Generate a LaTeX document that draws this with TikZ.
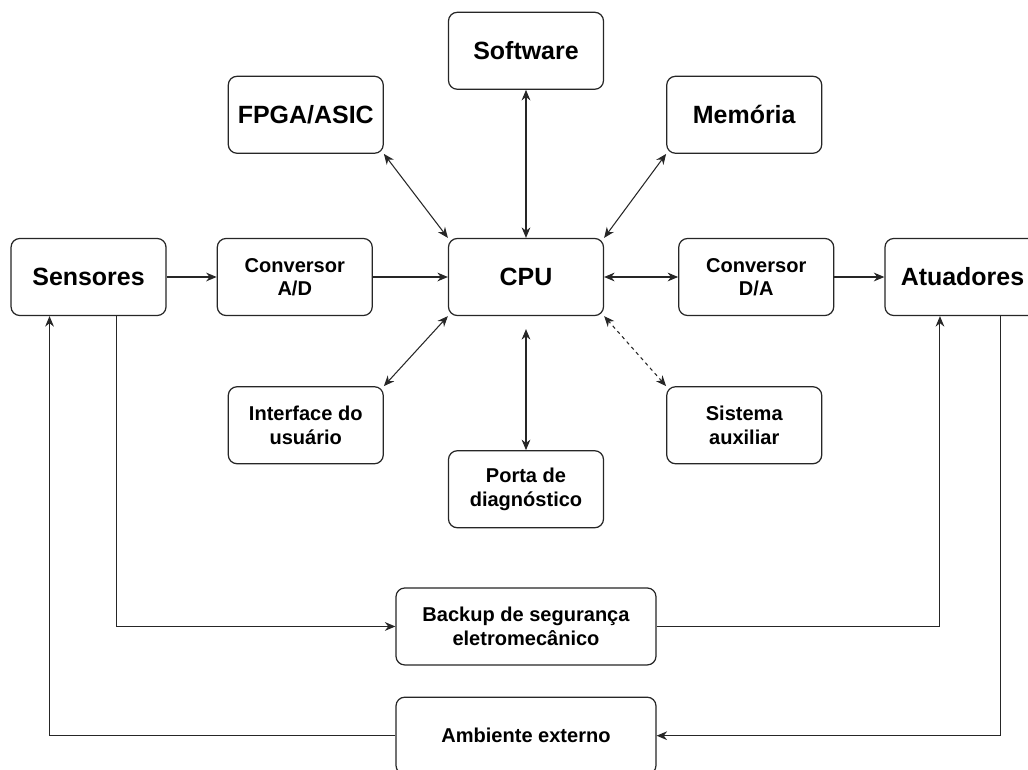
\documentclass[tikz,border=0pt]{standalone}
\usepackage{fontspec}
\setmainfont{Liberation Sans}
\usetikzlibrary{arrows.meta,positioning}

\begin{document}
\begin{tikzpicture}[
        box/.style={rectangle, rounded corners=5pt, draw=black!85, line width=0.7pt, fill=white,
            minimum height=1.54cm, minimum width=3.1cm, align=center,
            font=\bfseries\fontsize{11.4}{13.4}\selectfont},
        bigbox/.style={box, font=\bfseries\fontsize{14.2}{17}\selectfont},
        widebox/.style={box, minimum width=5.2cm},
        arr/.style={-{Stealth[length=6pt,width=5pt]}, line width=0.6pt, draw=black!85},
        biarr/.style={arr, {Stealth[length=6pt,width=5pt]}-{Stealth[length=6pt,width=5pt]}},
        dasharr/.style={biarr, dash pattern=on 2pt off 2pt}
    ]
    \useasboundingbox (-10.52,5.54) rectangle (10.04,-9.84);

    \node[bigbox] (cpu) {CPU};
    \node[box, left=1.5cm of cpu] (adc) {Conversor\\A/D};
    \node[bigbox, left=1.0cm of adc] (sens) {Sensores};
    \node[box, right=1.48cm of cpu] (dac) {Conversor\\D/A};
    \node[bigbox, right=1.0cm of dac] (act) {Atuadores};

    \node[bigbox, above=2.96cm of cpu] (soft) {Software};
    \node[bigbox, above left=1.68cm and 1.28cm of cpu] (fpga) {FPGA/ASIC};
    \node[bigbox, above right=1.68cm and 1.24cm of cpu] (mem) {Memória};
    \node[box, below left=1.4cm and 1.28cm of cpu] (ui) {Interface do\\usuário};
    \node[box, below right=1.4cm and 1.24cm of cpu] (aux) {Sistema\\auxiliar};
    \node[box, below=2.68cm of cpu] (diag) {Porta de\\diagnóstico};

    \node[widebox, below=1.18cm of diag] (backup) {Backup de segurança\\eletromecânico};
    \node[widebox, below=0.62cm of backup] (amb) {Ambiente externo};

    \draw[arr] (sens) -- (adc);
    \draw[arr] (adc) -- (cpu);
    \draw[biarr] (cpu) -- (dac);
    \draw[arr] (dac) -- (act);

    \draw[biarr] (fpga.south east) -- (cpu.north west);
    \draw[biarr] (soft) -- (cpu);
    \draw[biarr] (mem.south west) -- (cpu.north east);
    \draw[biarr] (ui.north east) -- (cpu.south west);
    \draw[biarr, shorten <=0.26cm] (cpu) -- (diag);
    \draw[dasharr] (aux.north west) -- (cpu.south east);

    % safety path and environment loop
    \draw[arr] ([xshift=0.55cm]sens.south) |- (backup.west);
    \draw[arr] (backup.east) -| ([xshift=-0.45cm]act.south);
    \draw[arr] ([xshift=0.77cm]act.south) |- (amb.east);
    \draw[arr] (amb.west) -| ([xshift=-0.78cm]sens.south);
\end{tikzpicture}
\end{document}
